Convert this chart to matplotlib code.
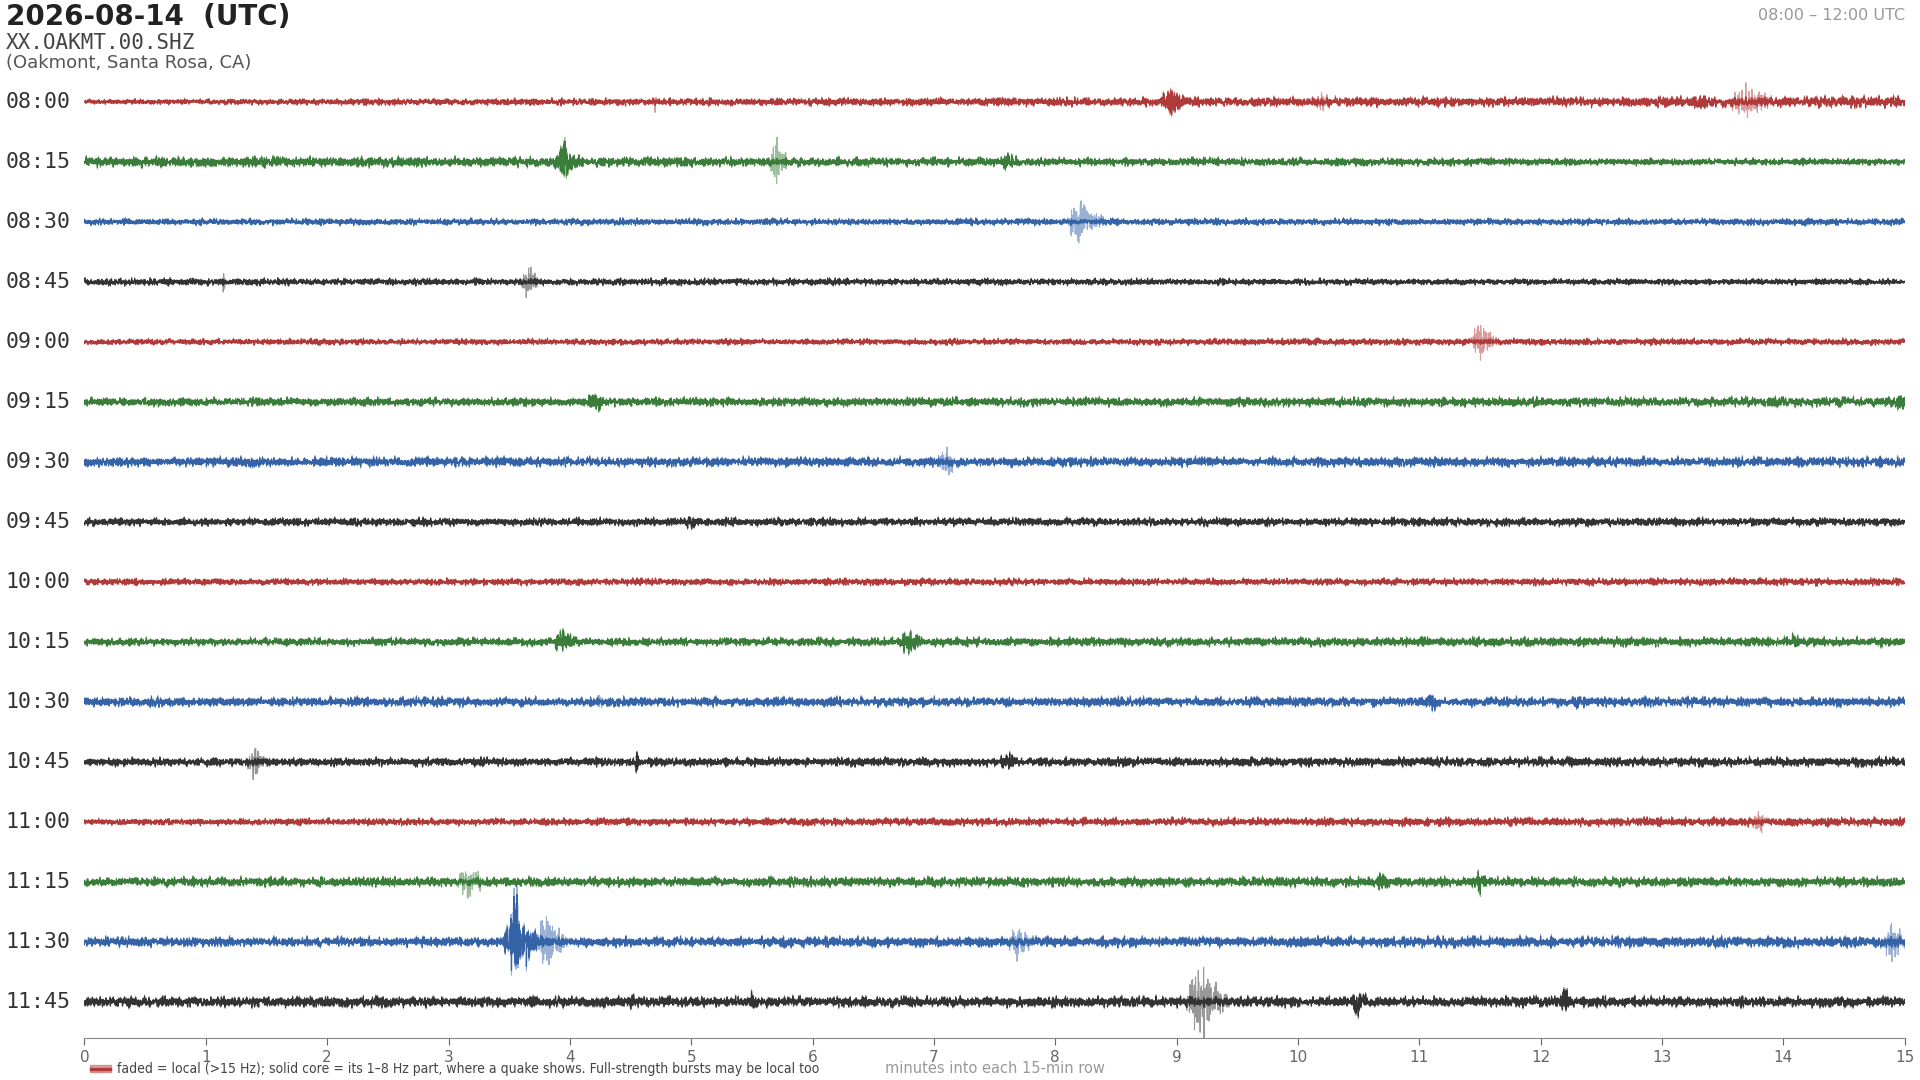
import numpy as np
import matplotlib
matplotlib.use("Agg")
import matplotlib.pyplot as plt
from matplotlib.patches import Rectangle

# rows of the helicorder, 15 min each
row_labels = ["08:00", "08:15", "08:30", "08:45", "09:00", "09:15", "09:30", "09:45",
              "10:00", "10:15", "10:30", "10:45", "11:00", "11:15", "11:30", "11:45"]
row_colors = ["#b03a3a", "#3a7d3a", "#3563a8", "#333333"] * 4

# background noise half-amplitude per row (row units), start / end of row
noise_a = [0.045, 0.09, 0.055, 0.06, 0.05, 0.07, 0.08, 0.065,
           0.055, 0.065, 0.08, 0.07, 0.055, 0.08, 0.08, 0.09]
noise_b = [0.095, 0.055, 0.055, 0.05, 0.055, 0.08, 0.08, 0.07,
           0.06, 0.08, 0.08, 0.08, 0.075, 0.08, 0.095, 0.09]

# events: row, minute, half-amplitude (row units), duration (min), local (faded only)
ev_row = [0, 0, 0, 0, 0, 1, 1, 1, 2, 3, 3, 4, 5, 5, 6, 6, 7, 9, 9, 9,
          10, 10, 10, 11, 11, 11, 12, 13, 13, 13, 14, 14, 14, 14, 15, 15, 15, 15, 15]
ev_min = [4.7, 8.95, 10.2, 13.7, 13.3, 3.95, 5.7, 7.6, 8.2, 3.65, 1.15, 11.5, 4.2, 14.97, 7.1, 14.8, 5.0, 3.95, 6.8, 14.1,
          4.25, 11.1, 12.3, 1.4, 7.6, 4.55, 13.8, 3.15, 10.7, 11.5, 3.55, 3.8, 7.7, 14.9, 9.2, 10.5, 12.2, 5.5, 4.5]
ev_amp = [0.16, 0.28, 0.18, 0.28, 0.16, 0.42, 0.5, 0.18, 0.42, 0.32, 0.18, 0.32, 0.24, 0.22, 0.24, 0.18, 0.16, 0.22, 0.22, 0.16,
          0.18, 0.18, 0.18, 0.26, 0.2, 0.16, 0.2, 0.3, 0.2, 0.2, 0.8, 0.48, 0.26, 0.28, 0.62, 0.26, 0.22, 0.18, 0.18]
ev_dur = [0.05, 0.3, 0.2, 0.5, 0.4, 0.25, 0.15, 0.25, 0.3, 0.15, 0.05, 0.25, 0.2, 0.15, 0.25, 0.1, 0.2, 0.3, 0.3, 0.2,
          0.1, 0.25, 0.25, 0.2, 0.2, 0.1, 0.25, 0.3, 0.25, 0.2, 0.3, 0.3, 0.35, 0.3, 0.35, 0.2, 0.2, 0.2, 0.2]
ev_local = [1, 0, 1, 1, 0, 0, 1, 0, 1, 1, 1, 1, 0, 0, 1, 0, 0, 0, 0, 0,
            1, 0, 0, 1, 0, 0, 1, 1, 0, 0, 0, 1, 1, 1, 1, 0, 0, 0, 0]

x_ticks = list(range(16))

n = 9000
t = np.linspace(0, 15, n)
rng = np.random.default_rng(7)  # texture of the trace only; envelopes come from the lists above

fig = plt.figure(figsize=(19.2, 10.8), dpi=100)
ax = fig.add_axes([0.044, 0.039, 0.948, 0.9])
label_tf = matplotlib.transforms.blended_transform_factory(fig.transFigure, ax.transData)

for r, lab in enumerate(row_labels):
    env = np.interp(t, [0, 15], [noise_a[r], noise_b[r]])
    env_loc = env.copy()
    env_core = env * 0.8
    for i in range(len(ev_row)):
        if ev_row[i] != r:
            continue
        d = t - ev_min[i]
        shape = np.where(d < 0, np.exp(-(d / (ev_dur[i] * 0.25)) ** 2), np.exp(-d / ev_dur[i] * 2.5))
        env_loc = np.maximum(env_loc, ev_amp[i] * shape)
        if not ev_local[i]:
            env_core = np.maximum(env_core, ev_amp[i] * 0.85 * shape)
    wave = rng.standard_normal(n)
    wave = np.clip(wave / 2.2, -1.3, 1.3)
    c = row_colors[r]
    ax.plot(t, r + env_loc * wave, color=c, lw=0.8, alpha=0.5)
    ax.plot(t, r + env_core * wave, color=c, lw=0.9, alpha=1.0)
    ax.text(0.003, r, lab, transform=label_tf, ha="left", va="center",
            fontsize=15.5, family="DejaVu Sans Mono", color="#333333")

ax.set_xlim(0, 15)
ax.set_ylim(15.6, -0.6)
ax.set_yticks([])
ax.set_xticks(x_ticks)
ax.tick_params(axis="x", labelsize=11, colors="#666666", length=5)
for s in ["top", "right", "left"]:
    ax.spines[s].set_visible(False)
ax.spines["bottom"].set_color("#888888")

fig.text(0.003, 0.997, "2026-08-14  (UTC)", fontsize=20, fontweight="bold", color="#222222", va="top")
fig.text(0.003, 0.969, "XX.OAKMT.00.SHZ", fontsize=15, family="DejaVu Sans Mono", color="#444444", va="top")
fig.text(0.003, 0.950, "(Oakmont, Santa Rosa, CA)", fontsize=13, color="#555555", va="top")
fig.text(0.992, 0.993, "08:00 \u2013 12:00 UTC", fontsize=11.5, color="#999999", ha="right", va="top")

fig.patches.append(Rectangle((0.047, 0.0075), 0.011, 0.006, transform=fig.transFigure,
                             color="#b03a3a", alpha=0.45))
fig.patches.append(Rectangle((0.047, 0.0095), 0.011, 0.002, transform=fig.transFigure,
                             color="#b03a3a"))
fig.text(0.061, 0.0105, "faded = local (>15 Hz); solid core = its 1\u20138 Hz part, where a quake shows. "
         "Full-strength bursts may be local too", fontsize=10, fontstretch="condensed",
         color="#444444", va="center")
fig.text(0.518, 0.0105, "minutes into each 15-min row", fontsize=10.5, color="#999999",
         ha="center", va="center")

fig.savefig("out.png", dpi=100)
